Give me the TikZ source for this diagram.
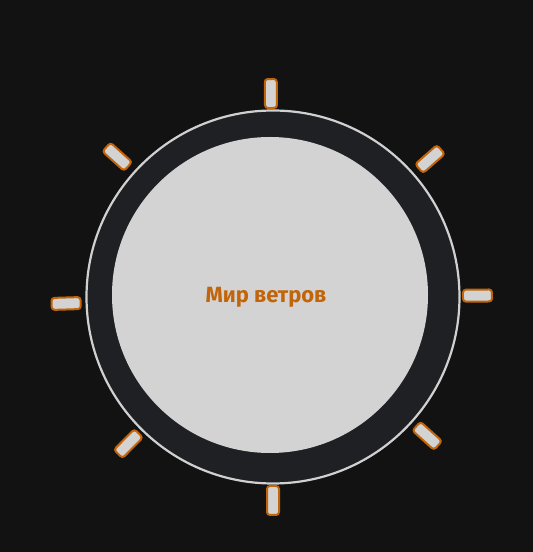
\documentclass[tikz,border=0pt]{standalone}
\usepackage{fontspec}
\setmainfont{Fira Sans}
\usepackage{tikz}
\usetikzlibrary{calc}

\definecolor{bgdark}{HTML}{121212}
\definecolor{ringdark}{HTML}{1E2023}
\definecolor{palegrey}{HTML}{D3D3D3}
\definecolor{rimgrey}{HTML}{D0D0D0}
\definecolor{windorange}{HTML}{C2650A}

\tikzset{
    tick/.style={rectangle, rounded corners=3pt, draw=windorange, line width=2pt,
        fill=palegrey, minimum width=12pt, minimum height=29pt, inner sep=0pt}
}

\begin{document}
\begin{tikzpicture}[x=1pt, y=1pt]
        \fill[bgdark] (0,0) rectangle (533,552);
        \useasboundingbox (0,0) rectangle (533,552);
        \coordinate (hub) at (273,255);
        \fill[ringdark, draw=rimgrey, line width=2.2pt] (hub) circle (186.5);
        \node[circle, fill=palegrey, minimum size=316pt, inner sep=0pt] (world) at (270,257) {};
        \node[text=windorange, font=\fontsize{22}{22}\selectfont\bfseries] (title) at (266,255) {Мир ветров};
        % wind markers round the rim
        \foreach \a/\r [count=\i] in {90.6/203.5, 41.3/209, 0.4/204.5, -42/207.5, -90/203.5, 225.4/206, 181.8/207, 138/209.6} {
            \node[tick, rotate=\a-90] (tick\i) at ($(hub)+(\a:\r)$) {};
        }
    \end{tikzpicture}
\end{document}
